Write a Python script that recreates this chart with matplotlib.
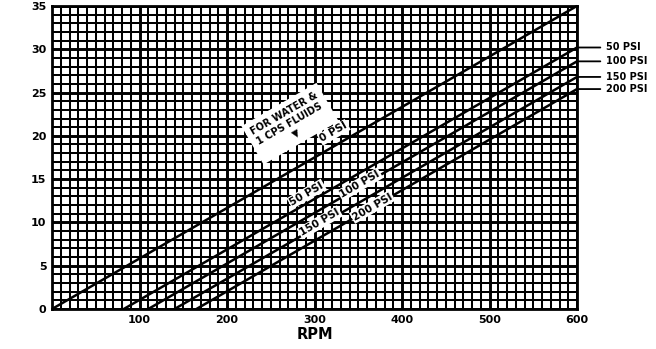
import matplotlib
matplotlib.use("Agg")
import matplotlib.pyplot as plt
import numpy as np

# flow curves: straight lines, same slope, shifted by pressure
rpm_max = 600
gpm_max = 35
series_names = ["0 PSI", "50 PSI", "100 PSI", "150 PSI", "200 PSI"]
start_rpm = [0, 82, 110, 140, 165]      # rpm where each line leaves zero
end_gpm = [35, 30.2, 28.6, 26.8, 25.4]   # value at 600 rpm

# in-chart labels (name, rpm, value)
inline_labels = [("50 PSI", 291, 13.3), ("100 PSI", 352, 14.4),
                 ("150 PSI", 306, 10.0), ("200 PSI", 366, 11.8)]
xticks = [100, 200, 300, 400, 500, 600]
yticks = [0, 5, 10, 15, 20, 25, 30, 35]

fig = plt.figure(figsize=(6.56, 3.49), dpi=100)
ax = fig.add_axes([0.0793, 0.1146, 0.8003, 0.8684])

ax.set_xlim(0, rpm_max)
ax.set_ylim(0, gpm_max)

# graph-paper grid
ax.set_xticks(np.arange(0, 601, 10), minor=True)
ax.set_yticks(np.arange(0, 36, 1), minor=True)
ax.set_xticks(xticks)
ax.set_yticks(yticks)
ax.grid(which="minor", color="black", lw=1.45)
ax.grid(which="major", color="black", lw=2.1)
ax.set_axisbelow(True)
ax.tick_params(which="both", length=0, pad=4)
ax.set_xticklabels([str(t) for t in xticks], fontsize=8, fontweight="bold")
ax.set_yticklabels([str(t) for t in yticks], fontsize=8, fontweight="bold")
for s in ax.spines.values():
    s.set_linewidth(2.0)

for name, x0, y1 in zip(series_names, start_rpm, end_gpm):
    ax.plot([x0, rpm_max], [0, y1], color="black", lw=1.8, solid_capstyle="butt",
            clip_on=False, zorder=3)

box = dict(facecolor="white", edgecolor="none", pad=0.8)
for name, x, y in inline_labels:
    ax.text(x, y, name, rotation=30, ha="center", va="center", fontsize=7.5,
            fontweight="bold", bbox=box, zorder=4)

ax.text(272, 21.4, "FOR WATER &\n1 CPS FLUIDS\n\u25bc", rotation=30, ha="center",
        va="center", fontsize=7, fontweight="bold", linespacing=1.2,
        bbox=dict(facecolor="white", edgecolor="none", pad=4), zorder=4)
ax.text(322, 20.4, "0 PSI", rotation=30, ha="center", va="center", fontsize=7.5,
        fontweight="bold", bbox=box, zorder=4)

# right side legend with leader lines
for name, y1 in zip(series_names[1:], end_gpm[1:]):
    ax.annotate(name, xy=(rpm_max, y1), xytext=(rpm_max + 33, y1),
                textcoords="data", va="center", ha="left", fontsize=7,
                fontweight="bold", annotation_clip=False,
                arrowprops=dict(arrowstyle="-", color="black", lw=1.3,
                                shrinkA=2, shrinkB=0))

ax.set_xlabel("RPM", fontsize=10.5, fontweight="bold", labelpad=2)

fig.savefig("out.png", dpi=100)
